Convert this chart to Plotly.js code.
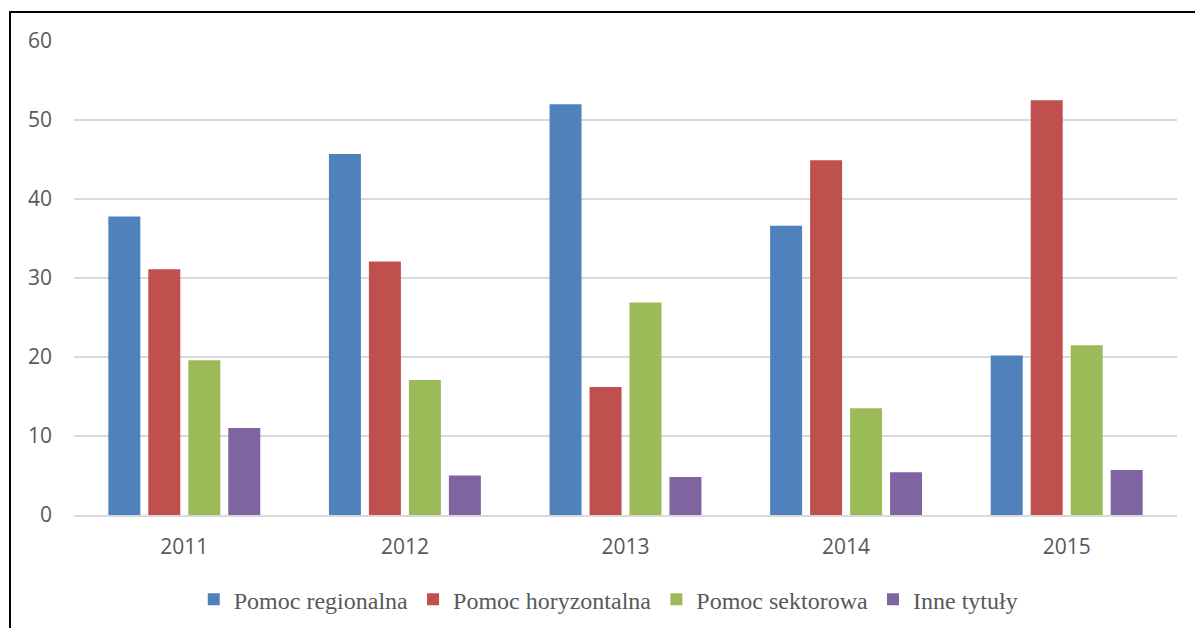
<!DOCTYPE html>
<html>
<head>
<meta charset="utf-8">
<script src="https://cdn.plot.ly/plotly-3.0.1.min.js"></script>
<style>
  html, body { margin: 0; padding: 0; background: #ffffff; }
  #wrap { position: relative; width: 1195px; height: 628px; overflow: hidden; }
  #chart { width: 1195px; height: 628px; }
  #frame { position: absolute; left: 9px; top: 11px; width: 1400px; height: 800px;
           border-left: 2px solid #000; border-top: 2px solid #000; pointer-events: none; }
</style>
</head>
<body>
<div id="wrap">
  <div id="chart"></div>
  <div id="frame"></div>
</div>
<script>
const years = ["2011", "2012", "2013", "2014", "2015"];
const seriesNames = ["Pomoc regionalna", "Pomoc horyzontalna", "Pomoc sektorowa", "Inne tytuły"];
const regionalna   = [37.8, 45.7, 52.0, 36.6, 20.2];
const horyzontalna = [31.1, 32.1, 16.2, 44.9, 52.5];
const sektorowa    = [19.6, 17.1, 26.9, 13.5, 21.5];
const inne         = [11.0, 5.0, 4.8, 5.4, 5.7];
const colors = ["#4f81bd", "#c0504d", "#9bbb59", "#8064a2"];

const values = [regionalna, horyzontalna, sektorowa, inne];
const traces = values.map((v, i) => ({
  type: "bar",
  name: seriesNames[i],
  x: years,
  y: v,
  marker: { color: colors[i], line: { width: 0 } },
  hoverinfo: "x+y+name"
}));

const layout = {
  width: 1195,
  height: 628,
  margin: { l: 74, r: 18, t: 41, b: 113, autoexpand: false },
  paper_bgcolor: "#ffffff",
  plot_bgcolor: "#ffffff",
  barmode: "group",
  bargap: 0.275,
  bargroupgap: 0.2,
  showlegend: true,
  legend: {
    orientation: "h",
    xref: "container",
    yref: "container",
    x: 0.509, xanchor: "center",
    y: 0.045, yanchor: "middle",
    font: { family: "Liberation Serif, Times New Roman, serif", size: 24, color: "#595959" },
    traceorder: "normal",
    itemwidth: 30
  },
  xaxis: {
    type: "category",
    showgrid: false,
    showline: true,
    linecolor: "#d9d9d9",
    linewidth: 1.5,
    ticks: "",
    ticklabelstandoff: 12,
    automargin: false,
    tickfont: { family: "Open Sans, Noto Sans, sans-serif", size: 21, color: "#595959" }
  },
  yaxis: {
    range: [0, 60],
    dtick: 10,
    tick0: 0,
    showgrid: true,
    gridcolor: "#d9d9d9",
    gridwidth: 1.5,
    zeroline: false,
    showline: false,
    ticks: "",
    ticklabelstandoff: 21,
    automargin: false,
    tickfont: { family: "Open Sans, Noto Sans, sans-serif", size: 21, color: "#595959" }
  }
};

Plotly.newPlot("chart", traces, layout, { displayModeBar: false, staticPlot: true });
</script>
</body>
</html>
